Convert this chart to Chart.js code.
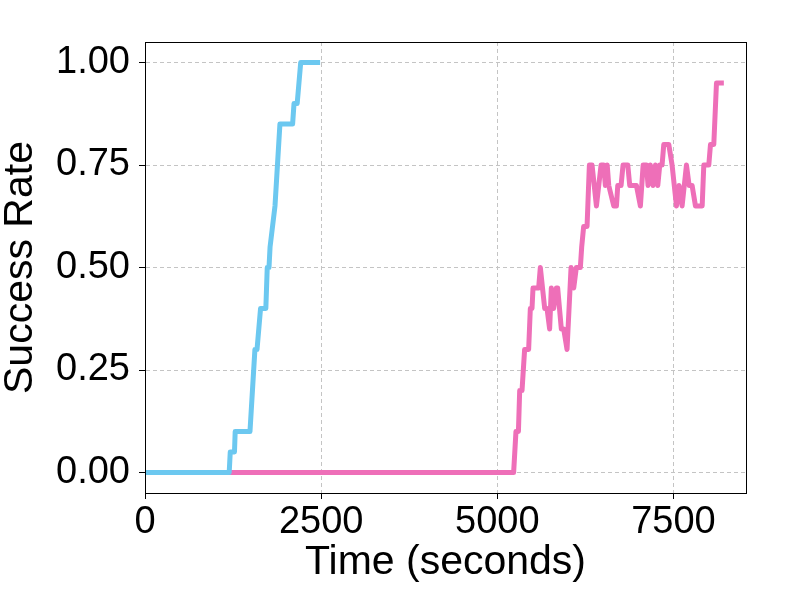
<!DOCTYPE html>
<html>
<head>
<meta charset="utf-8">
<script src="https://cdn.jsdelivr.net/npm/chart.js@4/dist/chart.umd.min.js"></script>
<style>
  body { margin: 0; background: #fff; }
</style>
</head>
<body>
<canvas id="myChart" width="800" height="600"></canvas>
<script>
// run 1 (blue)
const blueTime = [35, 1195, 1210, 1270, 1280, 1490, 1560, 1590, 1640, 1715, 1735, 1760, 1775, 1845, 1915, 2095, 2115, 2160, 2210, 2450];
const blueRate = [0, 0, 0.05, 0.05, 0.10, 0.10, 0.30, 0.30, 0.40, 0.40, 0.50, 0.50, 0.55, 0.65, 0.85, 0.85, 0.90, 0.90, 1.00, 1.00];

// run 2 (pink)
const pinkTime = [0, 5232, 5265, 5300, 5318, 5351, 5388, 5445, 5469, 5493, 5507, 5587, 5611, 5673, 5706, 5743, 5767, 5800, 5838, 5857,
  5909, 5943, 5990, 6047, 6085, 6122, 6179, 6198, 6226, 6274, 6307, 6345, 6407, 6440, 6473, 6510, 6534, 6560, 6582, 6653,
  6691, 6710, 6757, 6785, 6852, 6880, 6975, 7031, 7070, 7117, 7140, 7173, 7211, 7245, 7278, 7306, 7339, 7363, 7434, 7481,
  7543, 7580, 7623, 7685, 7723, 7765, 7813, 7908, 7931, 8002, 8026, 8073, 8111, 8180];
const pinkRate = [0, 0, 0.10, 0.10, 0.20, 0.20, 0.30, 0.30, 0.40, 0.40, 0.45, 0.45, 0.50, 0.40, 0.40, 0.35, 0.45, 0.40, 0.45, 0.45,
  0.35, 0.35, 0.30, 0.50, 0.45, 0.50, 0.50, 0.55, 0.60, 0.60, 0.75, 0.75, 0.65, 0.70, 0.75, 0.75, 0.70, 0.75, 0.70, 0.65,
  0.65, 0.70, 0.70, 0.75, 0.75, 0.70, 0.70, 0.65, 0.75, 0.75, 0.70, 0.75, 0.70, 0.75, 0.70, 0.75, 0.75, 0.80, 0.80, 0.75,
  0.65, 0.70, 0.65, 0.75, 0.70, 0.70, 0.65, 0.65, 0.75, 0.75, 0.80, 0.80, 0.95, 0.95];

const xTicks = [0, 2500, 5000, 7500];
const yTicks = [0, 0.25, 0.5, 0.75, 1.0];

function toPoints(ts, vs) {
  return ts.map((t, i) => ({ x: t, y: vs[i] }));
}

// black box round the plot area
const frame = {
  id: "frame",
  afterDatasetsDraw(chart) {
    const a = chart.chartArea;
    const ctx = chart.ctx;
    ctx.save();
    ctx.strokeStyle = "#000";
    ctx.lineWidth = 1;
    ctx.strokeRect(Math.round(a.left) + 0.5, Math.round(a.top) + 0.5, Math.round(a.right - a.left), Math.round(a.bottom - a.top));
    ctx.restore();
  }
};

const font = "'Liberation Sans', Arial, sans-serif";

new Chart(document.getElementById("myChart"), {
  type: "line",
  data: {
    datasets: [
      {
        label: "run 1",
        data: toPoints(blueTime, blueRate),
        borderColor: "#6cc8f0",
        borderWidth: 5,
        borderCapStyle: "square",
        borderJoinStyle: "round",
        pointRadius: 0,
        tension: 0,
        fill: false
      },
      {
        label: "run 2",
        data: toPoints(pinkTime, pinkRate),
        borderColor: "#ee6fb8",
        borderWidth: 5,
        borderCapStyle: "square",
        borderJoinStyle: "round",
        pointRadius: 0,
        tension: 0,
        fill: false
      }
    ]
  },
  options: {
    responsive: false,
    animation: false,
    devicePixelRatio: 1,
    layout: { padding: { top: 42, right: 54, left: 0, bottom: 0 } },
    plugins: {
      legend: { display: false },
      tooltip: { enabled: false }
    },
    scales: {
      x: {
        type: "linear",
        min: 0,
        max: 8530,
        afterBuildTicks: (s) => { s.ticks = xTicks.map(v => ({ value: v })); },
        afterFit: (s) => { s.height = 107; },
        grid: { color: "#c4c4c4", tickColor: "#000", tickLength: 6, tickBorderDash: [] },
        border: { color: "#000", width: 1, dash: [4, 3] },
        ticks: { color: "#000", padding: 1, maxRotation: 0, font: { family: font, size: 38 }, callback: (v) => String(v) },
        title: { display: true, text: "Time (seconds)", color: "#000", padding: { top: 0, bottom: 17 }, font: { family: font, size: 41, lineHeight: 1 } }
      },
      y: {
        min: -0.05,
        max: 1.05,
        afterBuildTicks: (s) => { s.ticks = yTicks.map(v => ({ value: v })); },
        afterFit: (s) => { s.width = 145; },
        grid: { color: "#c4c4c4", tickColor: "#000", tickLength: 6, tickBorderDash: [] },
        border: { color: "#000", width: 1, dash: [4, 3] },
        ticks: { color: "#000", padding: 9, font: { family: font, size: 38 }, callback: (v) => Number(v).toFixed(2) },
        title: { display: true, text: "Success Rate", color: "#000", padding: { top: 0, bottom: 0 }, font: { family: font, size: 41, lineHeight: 1 } }
      }
    }
  },
  plugins: [frame]
});
</script>
</body>
</html>
